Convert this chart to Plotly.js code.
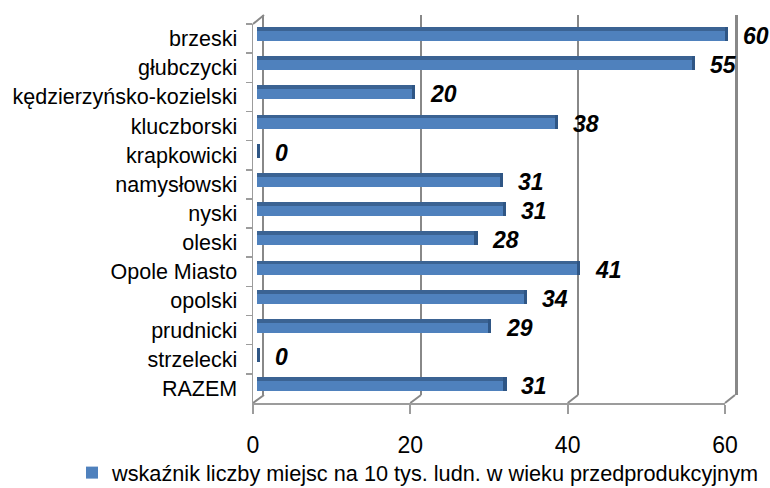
<!DOCTYPE html>
<html>
<head>
<meta charset="utf-8">
<script src="https://cdn.plot.ly/plotly-3.0.1.min.js"></script>
<style>html,body{margin:0;padding:0;background:#fff;}#chart{width:770px;height:488px;}</style>
</head>
<body>
<div id="chart"></div>
<script>
// ---- data ----
const categories = ["brzeski","głubczycki","kędzierzyńsko-kozielski","kluczborski","krapkowicki","namysłowski","nyski","oleski","Opole Miasto","opolski","prudnicki","strzelecki","RAZEM"];
const values = [59.6, 55.4, 19.7, 38.0, 0, 31.0, 31.3, 27.7, 40.7, 34.0, 29.4, 0, 31.4];
const dataLabels = ["60","55","20","38","0","31","31","28","41","34","29","0","31"];
const seriesName = "wskaźnik liczby miejsc na 10 tys. ludn. w wieku przedprodukcyjnym";
const xTicks = [0, 20, 40, 60];

// ---- geometry helpers (pixel -> paper) ----
const W = 770, H = 488;
const X = p => p / W;
const Y = p => 1 - p / H;

const font = "Liberation Sans, Arial, sans-serif";
const barBlue = "#4F81BD", barTop = "#3B6393", barCap = "#2F5685";
const gridC = "#888888", frontC = "#9c9c9c";

// bar subplot scale
const barZero = 257, pxPerUnit = 7.85, barRangeMax = 64;
const rowH = 29.19, firstCenter = 34.1, yTop = 15, yBot = 403;
const yMin = -(firstCenter - yTop) / rowH;
const yMax = yMin + (yBot - yTop) / rowH;
const barW = 0.48;

const traces = [
  // back wall (grid) subplot helper
  {type: "scatter", x: xTicks, y: xTicks, xaxis: "x", yaxis: "y", mode: "markers",
   marker: {opacity: 0}, hoverinfo: "skip", showlegend: false},
  // main bars
  {type: "bar", orientation: "h", x: values, y: categories, xaxis: "x2", yaxis: "y2",
   name: seriesName, width: barW, marker: {color: barBlue}, hoverinfo: "x+y"},
  // top face (3D look)
  {type: "bar", orientation: "h", x: values, y: categories, xaxis: "x2", yaxis: "y2",
   width: 0.13, offset: -barW / 2, marker: {color: barTop}, hoverinfo: "skip", showlegend: false},
  // end cap (3D look)
  {type: "bar", orientation: "h", x: values.map(() => 0.4), base: values, y: categories,
   xaxis: "x2", yaxis: "y2", width: barW, marker: {color: barCap}, hoverinfo: "skip", showlegend: false},
  // front plane helper for category labels
  {type: "scatter", x: values, y: categories, xaxis: "x3", yaxis: "y3", mode: "markers",
   marker: {opacity: 0}, hoverinfo: "skip", showlegend: false}
];

const annotations = values.map((v, i) => ({
  xref: "x2", yref: "y2", x: v, y: categories[i], text: "<b><i>" + dataLabels[i] + "</i></b>",
  showarrow: false, xanchor: "left", yanchor: "middle", xshift: 16, yshift: -2,
  font: {family: font, size: 23, color: "#000"}
}));

const seg = (x0, y0, x1, y1, c, w) => ({type: "line", xref: "paper", yref: "paper",
  x0: X(x0), y0: Y(y0), x1: X(x1), y1: Y(y1), line: {color: c, width: w}, layer: "below"});

const shapes = [
  seg(253, 24, 264, 15, gridC, 2),
  seg(253, 403, 264, 395, gridC, 2),
  seg(410.3, 403, 421, 395, gridC, 2),
  seg(567.7, 403, 578, 395, gridC, 2),
  seg(725, 403, 735, 395, gridC, 2)
];

const layout = {
  width: W, height: H,
  margin: {l: 0, r: 0, t: 0, b: 0, autoexpand: false},
  paper_bgcolor: "#fff", plot_bgcolor: "rgba(0,0,0,0)",
  barmode: "overlay", bargap: 0,
  font: {family: font, size: 21, color: "#000"},
  // back wall
  xaxis: {domain: [X(264), X(735)], range: [0, 60], tickvals: xTicks, showticklabels: false,
          showgrid: true, gridcolor: gridC, gridwidth: 2.5, zeroline: false, ticks: "", anchor: "y", fixedrange: true},
  yaxis: {domain: [Y(395), Y(15)], range: [0, 1], showgrid: false, zeroline: false, showticklabels: false,
          showline: true, mirror: true, linecolor: gridC, linewidth: 2.5, ticks: "", anchor: "x", fixedrange: true},
  // bars
  xaxis2: {domain: [X(barZero), X(barZero + barRangeMax * pxPerUnit)], range: [0, barRangeMax], visible: false, anchor: "y2", fixedrange: true},
  yaxis2: {domain: [Y(yBot), Y(yTop)], type: "category", range: [yMax, yMin], visible: false, anchor: "x2", fixedrange: true},
  // front plane
  xaxis3: {domain: [X(253), X(725)], range: [0, 60], tickvals: xTicks, ticktext: xTicks.map(String),
           showgrid: false, zeroline: false, showline: true, linecolor: frontC, linewidth: 2,
           ticks: "outside", ticklen: 9, tickwidth: 2, tickcolor: frontC, ticklabelstandoff: 11,
           tickfont: {family: font, size: 23, color: "#000"}, anchor: "y3", fixedrange: true, automargin: false},
  yaxis3: {domain: [Y(403), Y(24)], type: "category", range: [12.5, -0.5], tickson: "boundaries",
           showgrid: false, zeroline: false, showline: true, linecolor: frontC, linewidth: 1.5,
           ticks: "outside", ticklen: 6, tickwidth: 1.5, tickcolor: frontC, ticklabelstandoff: 10,
           tickfont: {family: font, size: 21.5, color: "#000"}, anchor: "x3", fixedrange: true, automargin: false},
  showlegend: true,
  legend: {orientation: "h", x: X(72), y: Y(452), xanchor: "left", yanchor: "top",
           font: {family: font, size: 21.7, color: "#000"}, bgcolor: "rgba(0,0,0,0)"},
  annotations: annotations,
  shapes: shapes
};

Plotly.newPlot("chart", traces, layout, {displayModeBar: false, staticPlot: true});
</script>
</body>
</html>
